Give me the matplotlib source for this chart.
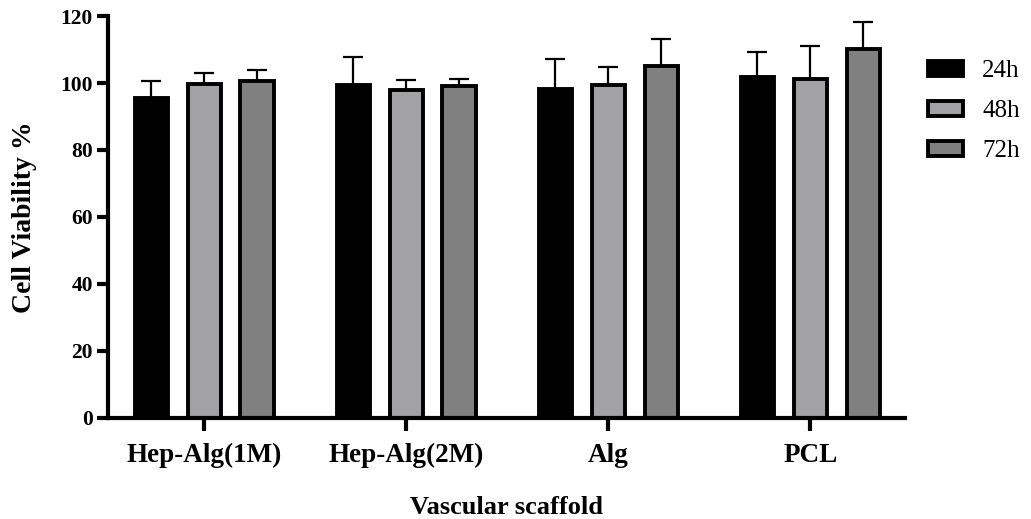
import numpy as np
import matplotlib.pyplot as plt

# Data
scaffolds = ['Hep-Alg(1M)', 'Hep-Alg(2M)', 'Alg', 'PCL']
times = ['24h', '48h', '72h']
viab_24h = [95.5, 99.5, 98.2, 101.8]
viab_48h = [99.8, 98.0, 99.3, 101.2]
viab_72h = [100.6, 99.0, 105.0, 110.2]
err_24h = [5.0, 8.3, 9.0, 7.5]
err_48h = [3.2, 3.0, 5.6, 9.8]
err_72h = [3.3, 2.3, 8.2, 8.0]

colors = ['#000000', '#a2a2a4', '#808080']

plt.rcParams['font.family'] = ['Liberation Serif', 'DejaVu Serif']

fig = plt.figure(figsize=(10.31, 5.19), dpi=100)
ax = fig.add_axes([0.105, 0.195, 0.773, 0.774])

x = np.arange(len(scaffolds))
width = 0.165
offset = 0.262
values = [viab_24h, viab_48h, viab_72h]
errors = [err_24h, err_48h, err_72h]

for i, (vals, errs) in enumerate(zip(values, errors)):
    pos = x + (i - 1) * offset
    ax.errorbar(pos, vals, yerr=[np.zeros(len(errs)), errs], fmt='none',
                ecolor='black', elinewidth=1.6, capsize=7, capthick=1.6, zorder=1)
    ax.bar(pos, vals, width=width, color=colors[i], edgecolor='black',
           linewidth=2.8, label=times[i], zorder=2)

ax.set_xlim(-0.475, 3.47)
ax.set_ylim(0, 120)
ax.set_yticks(range(0, 121, 20))
ax.set_xticks(x)
ax.set_xticklabels(scaffolds, fontsize=19.5, fontweight='bold')
for lbl in ax.get_yticklabels():
    lbl.set_fontweight('bold')
    lbl.set_fontsize(15.5)

ax.spines['top'].set_visible(False)
ax.spines['right'].set_visible(False)
ax.spines['left'].set_linewidth(3)
ax.spines['bottom'].set_linewidth(3)
ax.tick_params(axis='both', width=3, length=8, pad=3)
ax.tick_params(axis='x', length=9, pad=9)

ax.set_ylabel('Cell Viability %', fontsize=20, fontweight='bold', labelpad=17)
ax.set_xlabel('Vascular scaffold', fontsize=19, fontweight='bold', labelpad=20)

leg = ax.legend(loc='upper left', bbox_to_anchor=(1.029, 0.89), frameon=False,
                fontsize=18, handlelength=1.4, handleheight=0.6,
                labelspacing=0.72, handletextpad=0.75, borderpad=0,
                borderaxespad=0)

fig.savefig('out.png', dpi=100)
